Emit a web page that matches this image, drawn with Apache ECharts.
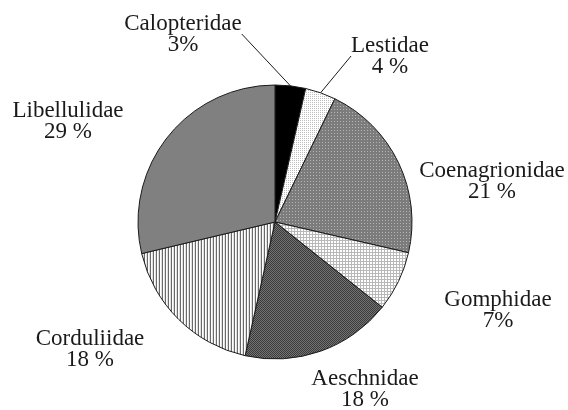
<!DOCTYPE html>
<html><head><meta charset="utf-8">
<script src="https://cdn.jsdelivr.net/npm/echarts@6/dist/echarts.min.js"></script>
<style>html,body{margin:0;padding:0;background:#fff}#c{width:568px;height:410px}</style>
</head><body><div id="c"></div>
<script>
var families = ['Calopteridae','Lestidae','Coenagrionidae','Gomphidae','Aeschnidae','Corduliidae','Libellulidae'];
var shares = [3.6, 3.6, 21.4, 7.1, 17.8, 17.8, 28.7];
var shareLabels = ['3%','4 %','21 %','7%','18 %','18 %','29 %'];

function pat(w, h, fn){
  var c = document.createElement('canvas'); c.width = w; c.height = h;
  var g = c.getContext('2d');
  for (var y=0;y<h;y++) for (var x=0;x<w;x++){ g.fillStyle = fn(x,y); g.fillRect(x,y,1,1); }
  return {image:c, repeat:'repeat'};
}
var fills = [
  '#000000',
  pat(2,2,function(x,y){return (x===0&&y===0)?'#bdbdbd':'#ffffff';}),
  pat(3,3,function(x,y){return (x===1&&y===1)?'#b4b4b4':'#7c7c7c';}),
  pat(3,3,function(x,y){return (x===0||y===0)?'#b8b8b8':'#ffffff';}),
  pat(2,2,function(x,y){return ((x+y)%2===0)?'#3a3a3a':'#747474';}),
  pat(3,1,function(x){return x===0?'#6a6a6a':(x===1?'#ffffff':'#e0e0e0');}),
  '#808080'
];
var labelPos = [[183,34],[390,56],[492,181],[498,310],[365,389],[90,349],[68,121]];
var showLine = [true,true,false,false,false,false,false];

var data = families.map(function(n,i){
  return {name:n, value:shares[i], itemStyle:{color:fills[i]},
    labelLine:{show:showLine[i]}};
});
var chart = echarts.init(document.getElementById('c'));
chart.setOption({
  animation:false,
  series:[{
    type:'pie', center:[275,222], radius:137, startAngle:90, clockwise:true,
    avoidLabelOverlap:false,
    itemStyle:{borderColor:'#1a1a1a', borderWidth:1},
    label:{show:true, position:'outside', fontFamily:'Liberation Serif', fontSize:23, color:'#1a1a1a',
      lineHeight:21, align:'center',
      formatter:function(p){return p.name+'\n'+shareLabels[p.dataIndex];}},
    labelLine:{show:false, length:10, length2:0, lineStyle:{color:'#1a1a1a', width:1}},
    labelLayout:function(p){
      var q = labelPos[p.dataIndex];
      return {x:q[0], y:q[1], align:'center', verticalAlign:'middle'};
    },
    emphasis:{disabled:true},
    data:data
  }]
});
</script></body></html>
